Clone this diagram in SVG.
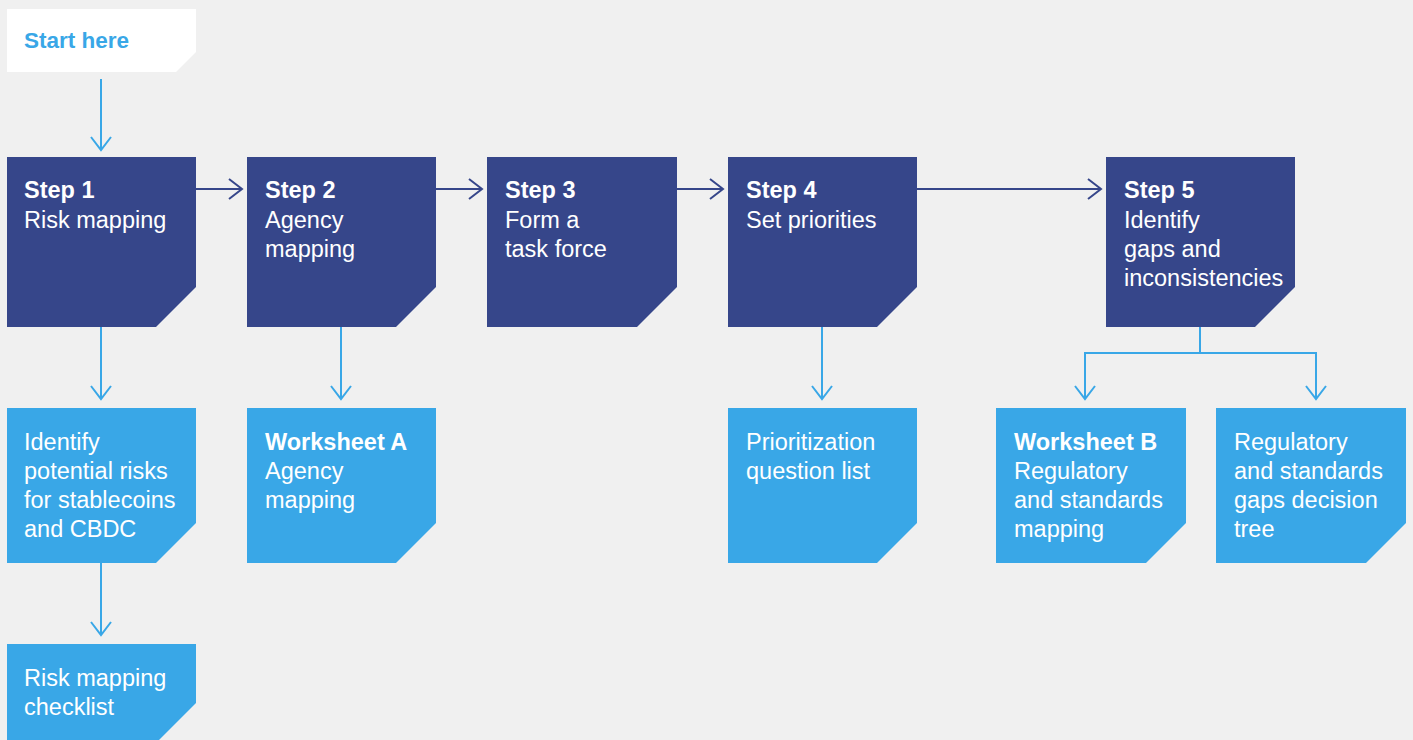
<svg xmlns="http://www.w3.org/2000/svg" width="1413" height="740" viewBox="0 0 1413 740">
<style>
.dark{fill:#36468a}
.light{fill:#39a7e7}
.white{fill:#ffffff}
text{font-family:"Liberation Sans",Arial,sans-serif;font-size:23.5px;fill:#ffffff}
.b{font-weight:bold}
.start{fill:#39a7e7;font-weight:bold;font-size:22.5px}
.cd{fill:none;stroke:#36468a;stroke-width:2}
.cl{fill:none;stroke:#39a7e7;stroke-width:2}
</style>
<defs>
<marker id="ad" markerUnits="userSpaceOnUse" markerWidth="16" markerHeight="24" refX="14" refY="11" orient="auto">
<path d="M1,1 L14,11 L1,21" fill="none" stroke="#36468a" stroke-width="2"/>
</marker>
<marker id="al" markerUnits="userSpaceOnUse" markerWidth="16" markerHeight="24" refX="14" refY="11" orient="auto">
<path d="M1,1 L14,11 L1,21" fill="none" stroke="#39a7e7" stroke-width="2"/>
</marker>
</defs>
<rect x="0" y="0" width="1413" height="740" fill="#f0f0f0"/>

<g id="connectors">
<line class="cl" x1="101" y1="79" x2="101" y2="150" marker-end="url(#al)"/>
<line class="cd" x1="196" y1="189" x2="242" y2="189" marker-end="url(#ad)"/>
<line class="cd" x1="436" y1="189" x2="482" y2="189" marker-end="url(#ad)"/>
<line class="cd" x1="677" y1="189" x2="723" y2="189" marker-end="url(#ad)"/>
<line class="cd" x1="917" y1="189" x2="1101" y2="189" marker-end="url(#ad)"/>
<line class="cl" x1="101" y1="327" x2="101" y2="399" marker-end="url(#al)"/>
<line class="cl" x1="341" y1="327" x2="341" y2="399" marker-end="url(#al)"/>
<line class="cl" x1="822" y1="327" x2="822" y2="399" marker-end="url(#al)"/>
<line class="cl" x1="101" y1="563" x2="101" y2="635" marker-end="url(#al)"/>
<path class="cl" d="M1200,327 V353"/>
<path class="cl" d="M1085,399 V353 H1316 V399" />
<line class="cl" x1="1085" y1="360" x2="1085" y2="399" marker-end="url(#al)"/>
<line class="cl" x1="1316" y1="360" x2="1316" y2="399" marker-end="url(#al)"/>
</g>

<g id="start">
<path class="white" d="M7,9 H196 V52 L176,72 H7 Z"/>
<text class="start" x="24" y="48">Start here</text>
</g>

<g id="step1">
<path class="dark" d="M7,157 H196 V287 L156,327 H7 Z"/>
<text x="24" y="198" class="b">Step 1</text>
<text x="24" y="228">Risk mapping</text>
</g>
<g id="step2">
<path class="dark" d="M247,157 H436 V287 L396,327 H247 Z"/>
<text x="265" y="198" class="b">Step 2</text>
<text x="265" y="228">Agency</text>
<text x="265" y="257">mapping</text>
</g>
<g id="step3">
<path class="dark" d="M487,157 H677 V287 L637,327 H487 Z"/>
<text x="505" y="198" class="b">Step 3</text>
<text x="505" y="228">Form a</text>
<text x="505" y="257">task force</text>
</g>
<g id="step4">
<path class="dark" d="M728,157 H917 V287 L877,327 H728 Z"/>
<text x="746" y="198" class="b">Step 4</text>
<text x="746" y="228">Set priorities</text>
</g>
<g id="step5">
<path class="dark" d="M1106,157 H1295 V287 L1255,327 H1106 Z"/>
<text x="1124" y="198" class="b">Step 5</text>
<text x="1124" y="228">Identify</text>
<text x="1124" y="257">gaps and</text>
<text x="1124" y="286">inconsistencies</text>
</g>

<g id="identify-risks">
<path class="light" d="M7,408 H196 V523 L156,563 H7 Z"/>
<text x="24" y="450">Identify</text>
<text x="24" y="479">potential risks</text>
<text x="24" y="508">for stablecoins</text>
<text x="24" y="537">and CBDC</text>
</g>
<g id="checklist">
<path class="light" d="M7,644 H196 V703 L156,743 H7 Z"/>
<text x="24" y="686">Risk mapping</text>
<text x="24" y="715">checklist</text>
</g>
<g id="worksheet-a">
<path class="light" d="M247,408 H436 V523 L396,563 H247 Z"/>
<text x="265" y="450" class="b">Worksheet A</text>
<text x="265" y="479">Agency</text>
<text x="265" y="508">mapping</text>
</g>
<g id="prioritization">
<path class="light" d="M728,408 H917 V523 L877,563 H728 Z"/>
<text x="746" y="450">Prioritization</text>
<text x="746" y="479">question list</text>
</g>
<g id="worksheet-b">
<path class="light" d="M996,408 H1186 V523 L1146,563 H996 Z"/>
<text x="1014" y="450" class="b">Worksheet B</text>
<text x="1014" y="479">Regulatory</text>
<text x="1014" y="508">and standards</text>
<text x="1014" y="537">mapping</text>
</g>
<g id="decision-tree">
<path class="light" d="M1216,408 H1406 V523 L1366,563 H1216 Z"/>
<text x="1234" y="450">Regulatory</text>
<text x="1234" y="479">and standards</text>
<text x="1234" y="508">gaps decision</text>
<text x="1234" y="537">tree</text>
</g>
</svg>
